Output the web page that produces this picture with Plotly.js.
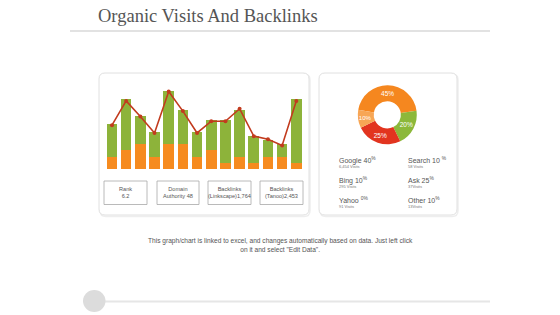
<!DOCTYPE html>
<html>
<head>
<meta charset="utf-8">
<script src="https://cdn.plot.ly/plotly-3.0.1.min.js"></script>
<style>html,body{margin:0;padding:0;background:#fff;}#chart{width:560px;height:315px;}</style>
</head>
<body>
<div id="chart"></div>
<script>
// ---- data ----
const categories = ['1','2','3','4','5','6','7','8','9','10','11','12','13','14'];
const orangePart = [15, 24, 32, 15, 32, 32, 15, 24, 8, 15, 8, 15, 15, 8];
const greenPart  = [42, 65, 36, 32, 68, 44, 32, 38, 54, 61, 34, 22, 17, 81];
const lineValues = [56, 87, 67, 46, 99, 74, 46, 61, 61, 77, 42, 38, 30, 87];

const donutLabels = ['Orange', 'Green', 'Red', 'Light'];
const donutValues = [45, 20, 25, 10];
const donutColors = ['#f5871f', '#8cb83a', '#e2341f', '#f7a655'];

const metricLines1 = ['Rank', 'Domain', 'Backlinks', 'Backlinks'];
const metricLines2 = ['6.2', 'Authority 48', '(Linkscape)1,764', '(Tanoo)2,453'];

const legendNames = ['Google 40', 'Search 10 ', 'Bing 10', 'Ask 25', 'Yahoo ', 'Other 10'];
const legendPct   = ['%', '%', '%', '%', '0%', '%'];
const legendVisits = ['6,454 Visits', '58 Visits', '295 Visits', '37Visits', '91 Visits', '13Visits'];

const titleText = 'Organic Visits And Backlinks';
const footerText = 'This graph/chart is linked to excel, and changes automatically based on data. Just left click<br>on it and select "Edit Data".';

// ---- helpers (pixel -> paper) ----
const W = 560, H = 315;
const X = px => px / W;
const Y = py => 1 - py / H;

function roundRect(x0, y0, x1, y1, r) {
  const rx = r / W, ry = r / H;
  const a = X(x0), b = X(x1), t = Y(y0), u = Y(y1);
  return `M ${a+rx},${t} L ${b-rx},${t} Q ${b},${t} ${b},${t-ry} L ${b},${u+ry} Q ${b},${u} ${b-rx},${u} L ${a+rx},${u} Q ${a},${u} ${a},${u+ry} L ${a},${t-ry} Q ${a},${t} ${a+rx},${t} Z`;
}

const shapes = [];
// title underline
shapes.push({type:'line', xref:'paper', yref:'paper', x0:X(70), x1:X(490), y0:Y(31), y1:Y(31), line:{color:'#e2e2e2', width:2}});
// cards (shadow + border)
[[99,73,309,215],[319,73,457,215]].forEach(c => {
  shapes.push({type:'path', xref:'paper', yref:'paper', path:roundRect(c[0]+1,c[1]+1,c[2]+1,c[3]+1.5,6), line:{color:'#eeeeee', width:1.5}, fillcolor:'rgba(0,0,0,0)', layer:'below'});
  shapes.push({type:'path', xref:'paper', yref:'paper', path:roundRect(c[0],c[1],c[2],c[3],6), line:{color:'#e0e0e0', width:1}, fillcolor:'#ffffff', layer:'below'});
});
// metric boxes
const boxX = [[104,147],[157,199],[208,251],[260,303]];
boxX.forEach(b => {
  shapes.push({type:'rect', xref:'paper', yref:'paper', x0:X(b[0]), x1:X(b[1]), y0:Y(181), y1:Y(204.5), line:{color:'#a8a8a8', width:0.8}, fillcolor:'rgba(0,0,0,0)'});
});
// bottom line + circle
shapes.push({type:'line', xref:'paper', yref:'paper', x0:X(94), x1:X(490), y0:Y(301.5), y1:Y(301.5), line:{color:'#e6e6e6', width:2}});
shapes.push({type:'circle', xref:'paper', yref:'paper', x0:X(83), x1:X(105.5), y0:Y(290), y1:Y(312), line:{width:0}, fillcolor:'#dcdcdc'});

const annotations = [];
annotations.push({xref:'paper', yref:'paper', x:X(96), y:Y(16), xanchor:'left', yanchor:'middle', showarrow:false, text:titleText, font:{family:'Liberation Serif, serif', size:18.5, color:'#555555'}});
annotations.push({xref:'paper', yref:'paper', x:X(280), y:Y(244.5), xanchor:'center', yanchor:'middle', showarrow:false, text:footerText, font:{family:'Liberation Sans, Arial', size:6.6, color:'#555555'}});
boxX.forEach((b, i) => {
  annotations.push({xref:'paper', yref:'paper', x:X((b[0]+b[1])/2), y:Y(192.7), xanchor:'center', yanchor:'middle', showarrow:false,
    text:metricLines1[i] + '<br>' + metricLines2[i], font:{family:'Liberation Sans, Arial', size:5.6, color:'#555555'}});
});
// donut legend
const legX = [337, 406];
const legY = [160, 180, 200];
legendNames.forEach((n, i) => {
  const col = i % 2, row = Math.floor(i / 2);
  annotations.push({xref:'paper', yref:'paper', x:X(legX[col]), y:Y(legY[row]), xanchor:'left', yanchor:'middle', showarrow:false,
    text:n + '<sup>' + legendPct[i] + '</sup>', font:{family:'Liberation Sans, Arial', size:7, color:'#555555'}});
  annotations.push({xref:'paper', yref:'paper', x:X(legX[col]), y:Y(legY[row] + 6.5), xanchor:'left', yanchor:'middle', showarrow:false,
    text:legendVisits[i], font:{family:'Liberation Sans, Arial', size:4, color:'#777777'}});
});

const traces = [
  {type:'bar', x:categories, y:orangePart, marker:{color:'#f68b1f'}, xaxis:'x', yaxis:'y', hoverinfo:'none'},
  {type:'bar', x:categories, y:greenPart, marker:{color:'#8db33a'}, xaxis:'x', yaxis:'y', hoverinfo:'none'},
  {type:'scatter', mode:'lines+markers', x:categories, y:lineValues, line:{color:'#c23b1e', width:1.6}, marker:{color:'#c23b1e', size:4}, xaxis:'x', yaxis:'y', hoverinfo:'none'},
  {type:'pie', labels:donutLabels, values:donutValues, hole:0.46, sort:false, direction:'clockwise', rotation:-80,
   marker:{colors:donutColors, line:{width:0}}, textinfo:'percent', textposition:'inside', insidetextorientation:'horizontal',
   textfont:{family:'Liberation Sans, Arial', size:6.5, color:'#ffffff'},
   domain:{x:[X(387.3-29.5), X(387.3+29.5)], y:[Y(114.8+29.5), Y(114.8-29.5)]}, hoverinfo:'none'}
];

const layout = {
  width:W, height:H, margin:{l:0, r:0, t:0, b:0},
  paper_bgcolor:'#ffffff', plot_bgcolor:'rgba(0,0,0,0)',
  showlegend:false, barmode:'stack', bargap:0.25,
  xaxis:{type:'category', domain:[X(104.9), X(303.4)], range:[-0.5, 13.5], showgrid:false, zeroline:false, showticklabels:false, showline:false, ticks:'', fixedrange:true},
  yaxis:{domain:[Y(169), Y(82.9)], range:[0, 110], showgrid:false, zeroline:false, showticklabels:false, showline:false, ticks:'', fixedrange:true},
  shapes:shapes, annotations:annotations
};

Plotly.newPlot('chart', traces, layout, {staticPlot:true, displayModeBar:false});
</script>
</body>
</html>
